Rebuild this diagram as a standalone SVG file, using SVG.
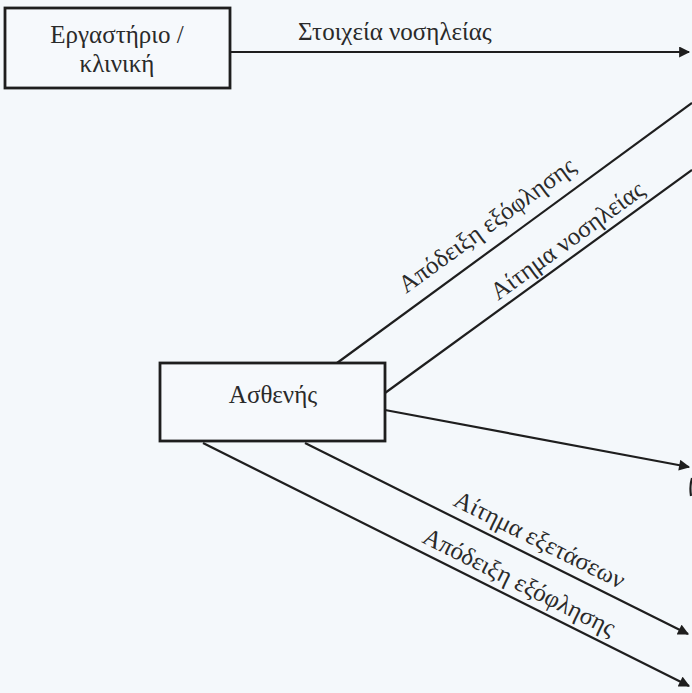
<svg xmlns="http://www.w3.org/2000/svg" width="692" height="693" viewBox="0 0 692 693">
  <style>
    .box { fill: #f6f9fc; stroke: #1e1e1e; stroke-width: 2.8; }
    .flow { fill: none; stroke: #1e1e1e; stroke-width: 2.2; }
    .name { font-family: "Liberation Serif", "Times New Roman", serif; font-size: 25px; fill: #2a2a2a; text-anchor: middle; }
    .lbl { font-family: "Liberation Serif", "Times New Roman", serif; font-size: 25px; fill: #2a2a2a; }
  </style>
  <defs>
    <marker id="arrow" viewBox="0 0 10 10" refX="9" refY="5" markerWidth="5.5" markerHeight="5" orient="auto" markerUnits="strokeWidth">
      <path d="M0,0 L10,5 L0,10 Z" fill="#1e1e1e"/>
    </marker>
  </defs>

  <rect x="0" y="0" width="692" height="693" fill="#f4f8fb"/>

  <g id="connectors">
    <!-- lab/clinic to the right -->
    <line class="flow" x1="230" y1="52" x2="689" y2="52" marker-end="url(#arrow)"/>
    <text class="lbl" x="298" y="40">Στοιχεία νοσηλείας</text>

    <!-- patient, upward to the right -->
    <line class="flow" x1="337" y1="363" x2="692" y2="103"/>
    <text class="lbl" transform="translate(406,294) rotate(-36)">Απόδειξη εξόφλησης</text>
    <line class="flow" x1="385" y1="393" x2="692" y2="170"/>
    <text class="lbl" transform="translate(498,301) rotate(-36)">Αίτημα νοσηλείας</text>

    <!-- patient to the right -->
    <line class="flow" x1="385" y1="410" x2="689" y2="467" marker-end="url(#arrow)"/>

    <!-- patient, downward to the right -->
    <line class="flow" x1="305" y1="443" x2="688" y2="634" marker-end="url(#arrow)"/>
    <text class="lbl" transform="translate(452,505) rotate(26.6)">Αίτημα εξετάσεων</text>
    <line class="flow" x1="203" y1="443" x2="689" y2="686" marker-end="url(#arrow)"/>
    <text class="lbl" transform="translate(421,542) rotate(26.6)">Απόδειξη εξόφλησης</text>

    <!-- edge of a shape cut off at the right border -->
    <path class="flow" d="M692,478 Q689.5,486 691,496"/>
  </g>

  <g id="lab">
    <rect class="box" x="5" y="8" width="225" height="80"/>
    <text class="name" x="117" y="43">Εργαστήριο /</text>
    <text class="name" x="117" y="72">κλινική</text>
  </g>

  <g id="patient">
    <rect class="box" x="160" y="363" width="225" height="78"/>
    <text class="name" x="273" y="403">Ασθενής</text>
  </g>
</svg>
